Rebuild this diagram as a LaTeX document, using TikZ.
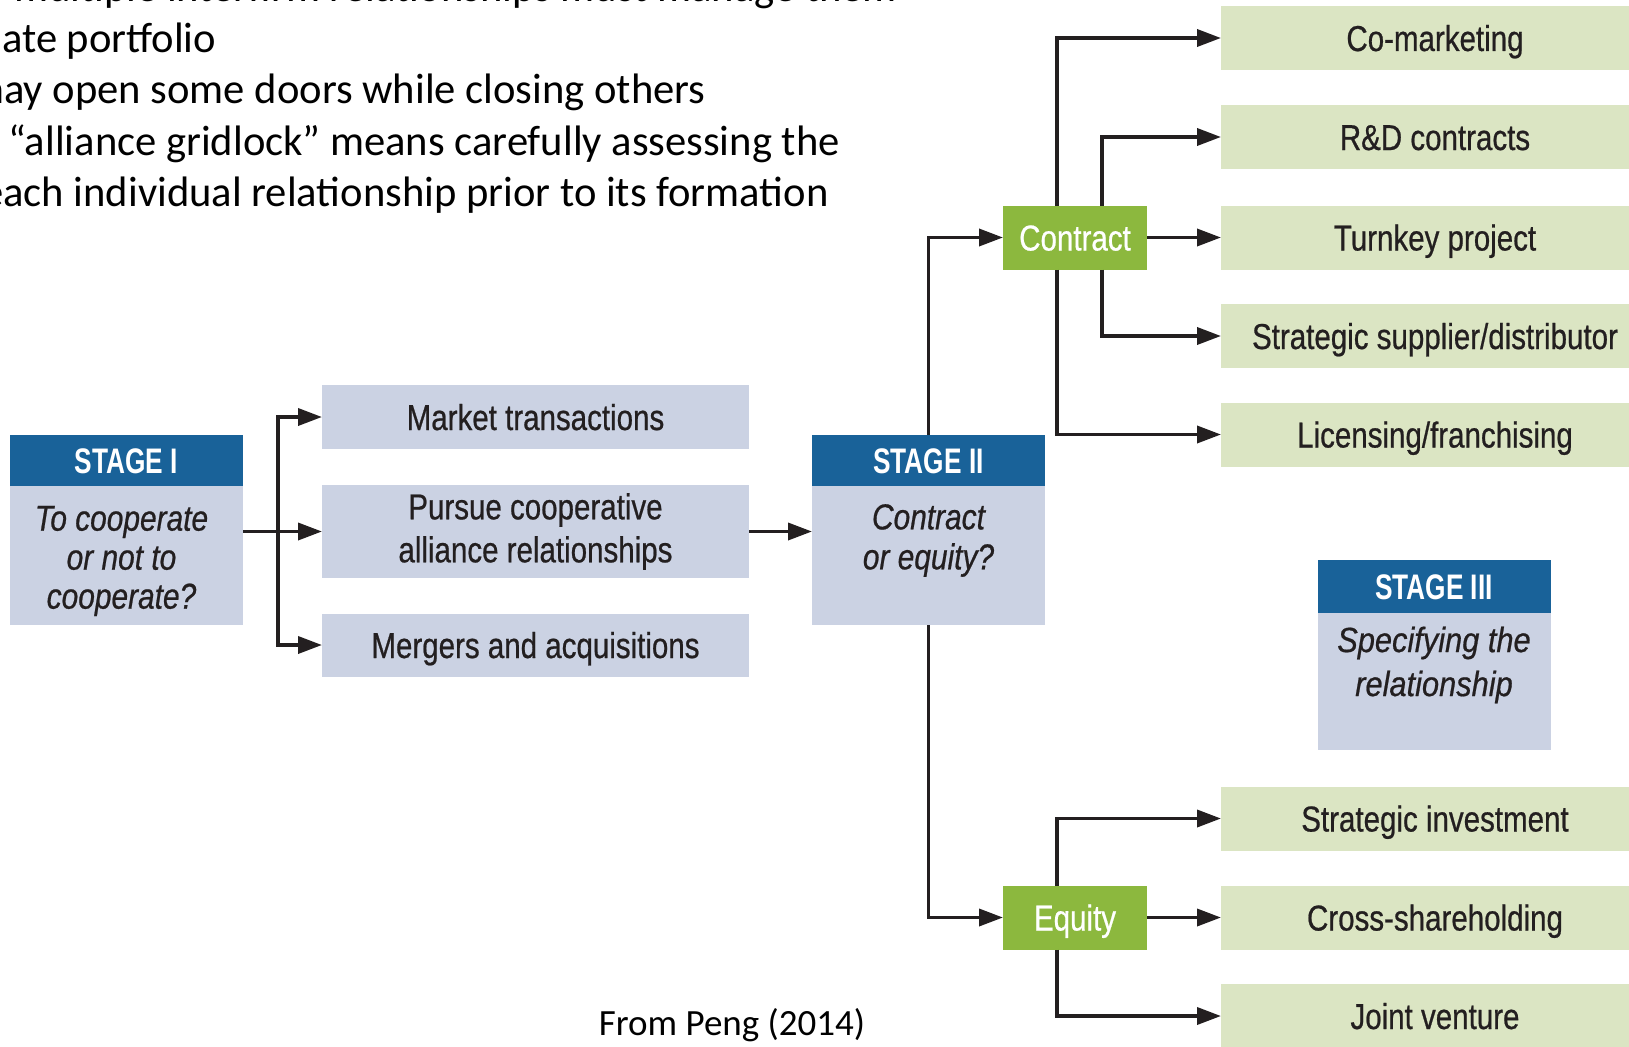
\documentclass[tikz,border=0pt]{standalone}
\usepackage{fontspec}
\setmainfont{Carlito}
\newfontfamily\condfont[FakeStretch=0.82,FakeBold=0.6]{Liberation Sans}
\newfontfamily\hdrfont[FakeStretch=0.74]{Liberation Sans}
\newfontfamily\qfont[FakeStretch=0.83,FakeBold=0.6]{Liberation Sans}
\newfontfamily\qwidefont[FakeStretch=0.88,FakeBold=0.6]{Liberation Sans}
\usetikzlibrary{arrows.meta}

\definecolor{headblue}{RGB}{25,98,153}
\definecolor{bodyblue}{RGB}{203,210,227}
\definecolor{leafgreen}{RGB}{140,184,62}
\definecolor{palegreen}{RGB}{219,229,195}
\definecolor{ink}{RGB}{35,31,32}

\tikzset{
  box/.style={rectangle, inner sep=0pt, outer sep=0pt, draw=none},
  oneline/.style={text height=26pt, text depth=0pt},
  bluebox/.style={box, fill=bodyblue, text=ink, minimum width=427pt,
    font={\condfont\fontsize{36}{43}\selectfont}},
  optionbox/.style={box, oneline, fill=palegreen, text=ink, minimum width=428pt,
    minimum height=64pt, font={\condfont\fontsize{36}{43}\selectfont}},
  leaf/.style={box, oneline, fill=leafgreen, text=white, minimum width=144pt,
    minimum height=64pt, font={\condfont\fontsize{36}{43}\selectfont}},
  stagehead/.style={box, fill=headblue, text=white, minimum width=233pt,
    minimum height=51pt, text height=25.5pt, text depth=0pt,
    font={\hdrfont\bfseries\fontsize{35.5}{40}\selectfont}},
  stagebody/.style={box, fill=bodyblue, minimum width=233pt},
  question/.style={inner sep=0pt, align=center, text=ink,
    font={\qfont\itshape\fontsize{36}{39}\selectfont}},
  flow/.style={draw=ink, line width=3.6pt, -{Triangle[length=24pt,width=17pt]}},
  slidetext/.style={anchor=base west, inner sep=0pt, text=black,
    font={\fontsize{42.6}{51}\selectfont}}
}

\begin{document}
\begin{tikzpicture}[x=1pt,y=-1pt]
\useasboundingbox (0,0) rectangle (1629,1046);
\clip (0,0) rectangle (1629,1046);

% slide text behind the figure
\node[slidetext] (l1) at (14,2) {multiple interfirm relationships must manage them};
\node[slidetext] (l2) at (2,53) {ate portfolio};
\node[slidetext] (l3) at (-30,104) {may open some doors while closing others};
\node[slidetext] (l4) at (8,155) {“alliance gridlock” means carefully assessing the};
\node[slidetext] (l5) at (-18,206) {each individual relationship prior to its formation};

% stage I
\node[stagehead] (s1h) at (126.5,460.5) {STAGE I};
\node[stagebody, minimum height=139pt] (s1b) at (126.5,555.5) {};
\node[question] (s1q) at (121.5,561) {To cooperate\\or not to\\cooperate?};

% stage I outcomes
\node[bluebox, oneline, minimum height=64pt] (market) at (535.5,417) {Market transactions};
\node[bluebox, minimum height=93pt, align=center] (pursue) at (535.5,531.5)
  {Pursue cooperative\\alliance relationships};
\node[bluebox, oneline, minimum height=63pt] (mergers) at (535.5,645) {Mergers and acquisitions};

% stage II
\node[stagehead] (s2h) at (928.5,460.5) {STAGE II};
\node[stagebody, minimum height=139pt] (s2b) at (928.5,555.5) {};
\node[question, font={\qfont\itshape\fontsize{36}{40}\selectfont}] (s2q) at (928.5,540.5)
  {Contract\\or equity?};

% contract vs. equity
\node[leaf] (contract) at (1075,237.5) {Contract};
\node[leaf] (equity) at (1075,917.5) {Equity};

% stage III options
\node[optionbox] (comark) at (1435,38) {Co-marketing};
\node[optionbox] (rnd) at (1435,137) {R\&D contracts};
\node[optionbox] (turnkey) at (1435,237.5) {Turnkey project};
\node[optionbox] (supplier) at (1435,336) {Strategic supplier/distributor};
\node[optionbox] (licensing) at (1435,434.5) {Licensing/franchising};
\node[optionbox] (stratinv) at (1435,818.5) {Strategic investment};
\node[optionbox] (crossshare) at (1435,917.5) {Cross-shareholding};
\node[optionbox] (jv) at (1435,1016) {Joint venture};

% stage III
\node[stagehead, minimum height=53pt] (s3h) at (1434,586.5) {STAGE III};
\node[stagebody, minimum height=137pt] (s3b) at (1434,681.5) {};
\node[question, font={\qwidefont\itshape\fontsize{35}{44}\selectfont}] (s3q) at (1434,665)
  {Specifying the\\relationship};

% source
\node[anchor=base, inner sep=0pt, font={\fontsize{37}{44}\selectfont}] (src) at (732,1035)
  {From Peng (2014)};

% connectors
\coordinate (fork) at (278,531.5);
\coordinate (cl) at (1057,0);
\coordinate (cr) at (1102,0);

\draw[flow] (s1b.east |- pursue.west) -- (pursue.west);
\draw[flow] (fork) |- (market.west);
\draw[flow] (fork) |- (mergers.west);
\draw[flow] (pursue.east) -- (pursue.east -| s2b.west);

\draw[flow] (s2h.north) |- (contract.west);
\draw[flow] (s2b.south) |- (equity.west);

\draw[flow] (contract.north -| cl) |- (comark.west);
\draw[flow] (contract.north -| cr) |- (rnd.west);
\draw[flow] (contract.east) -- (turnkey.west);
\draw[flow] (contract.south -| cr) |- (supplier.west);
\draw[flow] (contract.south -| cl) |- (licensing.west);

\draw[flow] (equity.north -| cl) |- (stratinv.west);
\draw[flow] (equity.east) -- (crossshare.west);
\draw[flow] (equity.south -| cl) |- (jv.west);
\end{tikzpicture}
\end{document}
